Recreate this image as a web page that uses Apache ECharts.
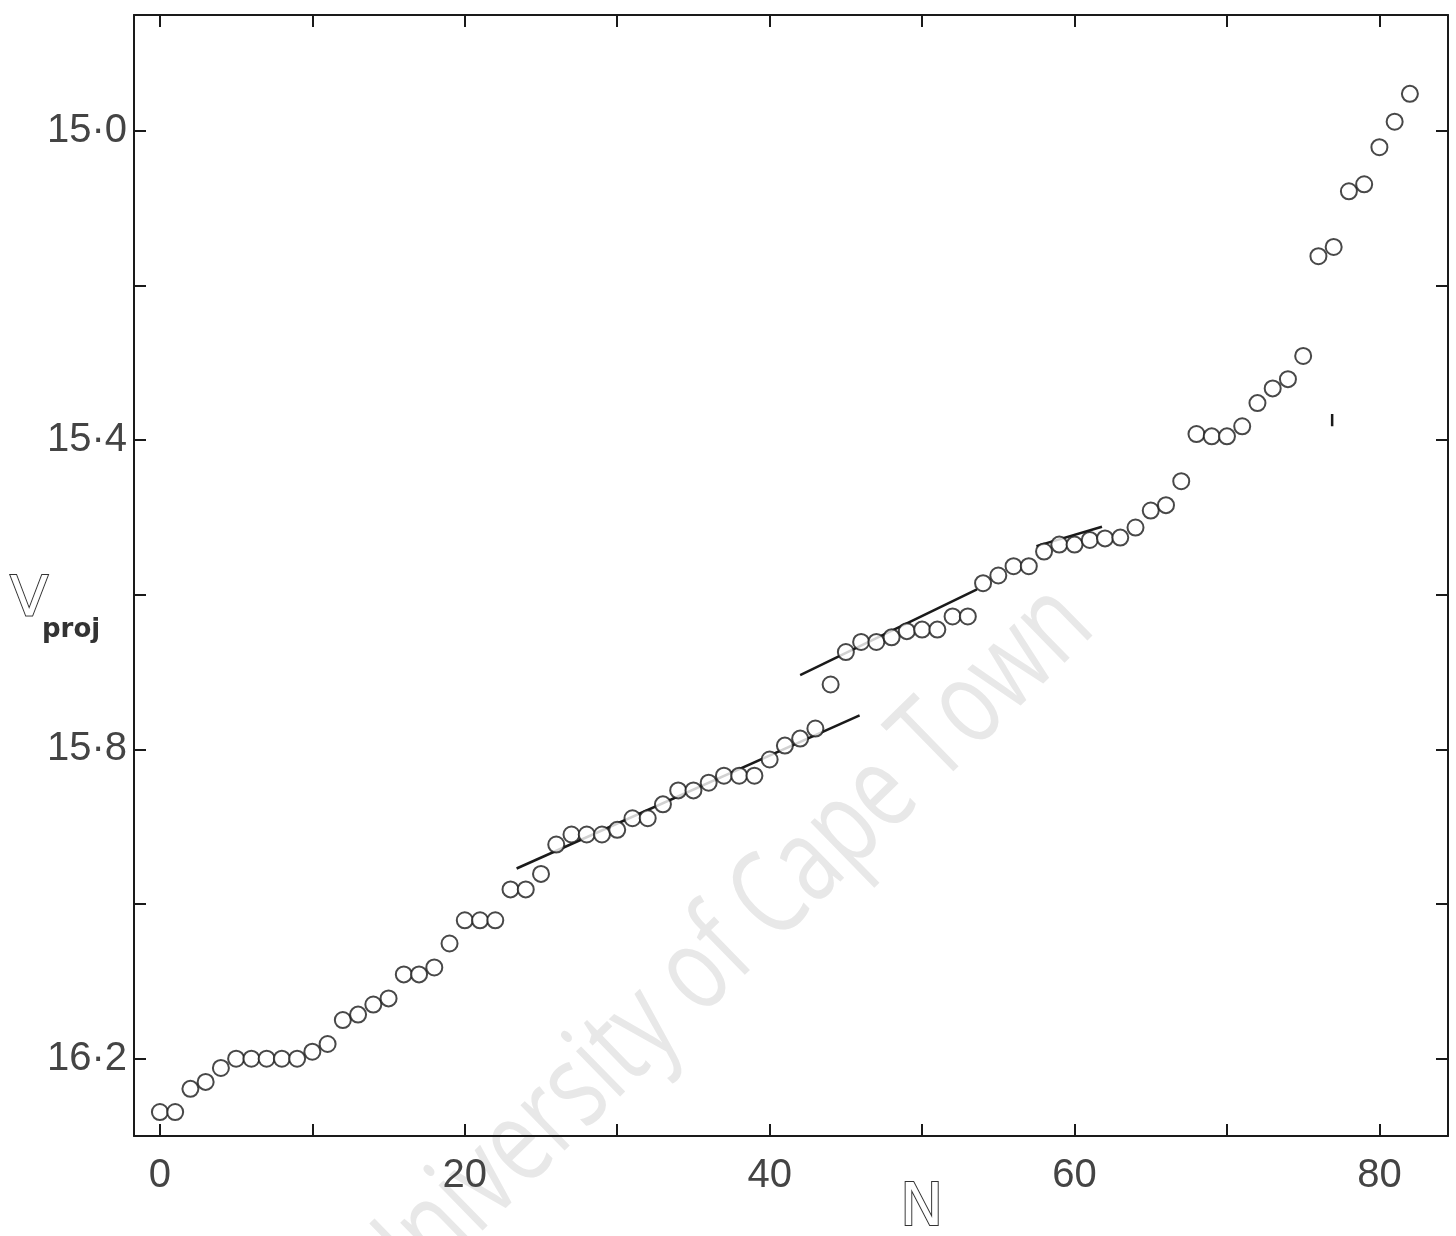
<!DOCTYPE html>
<html>
<head>
<meta charset="utf-8">
<script src="https://cdn.jsdelivr.net/npm/echarts@6/dist/echarts.min.js"></script>
<style>html,body{margin:0;padding:0;background:#fff}#c{width:1456px;height:1236px}</style>
</head>
<body>
<div id="c"></div>
<script>
const nValues = [0,1,2,3,4,5,6,7,8,9,10,11,12,13,14,15,16,17,18,19,20,21,22,23,24,25,26,27,28,29,30,31,32,33,34,35,36,37,38,39,40,41,42,43,44,45,46,47,48,49,50,51,52,53,54,55,56,57,58,59,60,61,62,63,64,65,66,67,68,69,70,71,72,73,74,75,76,77,78,79,80,81,82];
const vProj = [16.269,16.269,16.239,16.230,16.212,16.200,16.200,16.200,16.200,16.200,16.191,16.181,16.150,16.143,16.130,16.122,16.091,16.091,16.082,16.051,16.021,16.021,16.021,15.981,15.981,15.961,15.923,15.910,15.910,15.910,15.904,15.889,15.889,15.871,15.853,15.853,15.843,15.834,15.834,15.834,15.813,15.795,15.786,15.773,15.716,15.674,15.661,15.661,15.655,15.647,15.645,15.645,15.628,15.628,15.585,15.575,15.563,15.563,15.544,15.535,15.535,15.529,15.527,15.526,15.513,15.491,15.484,15.453,15.392,15.395,15.395,15.382,15.352,15.333,15.321,15.291,15.162,15.150,15.078,15.069,15.021,14.988,14.952];
const fitLine1 = [[23.4,15.954],[45.9,15.756]];
const fitLine2 = [[42.0,15.704],[53.6,15.593]];
const fitLine3 = [[57.5,15.537],[61.8,15.512]];
const markStroke = [[76.9,15.366],[76.9,15.382]];
const xTicks = [0,10,20,30,40,50,60,70,80];
const xLabels = [0,20,40,60,80];
const yTicks = [15.0,15.2,15.4,15.6,15.8,16.0,16.2];
const yLabels = [15.0,15.4,15.8,16.2];

const points = nValues.map((n,i)=>[n,vProj[i]]);
const ink = '#1a1a1a';
const fmt = v => Number(v).toFixed(1).replace('.', '\u00b7');
const labelFont = {fontFamily:'Liberation Sans', fontSize:40, color:'#444'};
const xBase = {type:'value', min:-1.7, max:84.5, splitLine:{show:false},
  axisLine:{onZero:false, lineStyle:{color:ink,width:2}},
  axisTick:{inside:true,length:12,customValues:xTicks,lineStyle:{color:ink,width:2}}};
const yBase = {type:'value', inverse:true, min:14.85, max:16.30, splitLine:{show:false},
  axisLine:{onZero:false, lineStyle:{color:ink,width:2}},
  axisTick:{inside:true,length:12,customValues:yTicks,lineStyle:{color:ink,width:2}}};
const lineSeries = (d)=>({type:'line', data:d, symbol:'none', lineStyle:{color:ink,width:2.5}, z:3, silent:true});

const chart = echarts.init(document.getElementById('c'), null, {renderer:'canvas'});
chart.setOption({
  animation:false,
  backgroundColor:'#fff',
  grid:{left:134,right:8,top:15,bottom:100},
  xAxis:[
    Object.assign({}, xBase, {position:'bottom', axisLabel:Object.assign({customValues:xLabels, margin:20}, labelFont)}),
    Object.assign({}, xBase, {position:'top', axisLabel:{show:false}})
  ],
  yAxis:[
    Object.assign({}, yBase, {position:'left', axisLabel:Object.assign({customValues:yLabels, margin:7, formatter:fmt}, labelFont)}),
    Object.assign({}, yBase, {position:'right', axisLabel:{show:false}})
  ],
  graphic:[
    {type:'text', x:722, y:950, rotation:44.3*Math.PI/180, scaleX:0.74, z:-10, silent:true,
      style:{text:'University of Cape Town', fontFamily:'Open Sans', fontSize:118, fill:'#e8e8e8', align:'center', verticalAlign:'middle'}},
    {type:'text', x:10, y:572, z:10,
      style:{text:'V', fontFamily:'DejaVu Sans', fontSize:56, fill:'#fff', stroke:'#333', lineWidth:2}},
    {type:'text', x:42, y:617, z:10,
      style:{text:'proj', fontFamily:'DejaVu Sans', fontWeight:'bold', fontSize:26, fill:'#333'}},
    {type:'text', x:900, y:1181, z:10,
      style:{text:'N', fontFamily:'DejaVu Sans', fontSize:58, fill:'#fff', stroke:'#333', lineWidth:2}}
  ],
  series:[
    {type:'scatter', data:points, symbol:'circle', symbolSize:16,
      itemStyle:{color:'#fff', borderColor:ink, borderWidth:2}, z:4},
    lineSeries(fitLine1),
    lineSeries(fitLine2),
    lineSeries(fitLine3),
    lineSeries(markStroke)
  ]
});
</script>
</body>
</html>
